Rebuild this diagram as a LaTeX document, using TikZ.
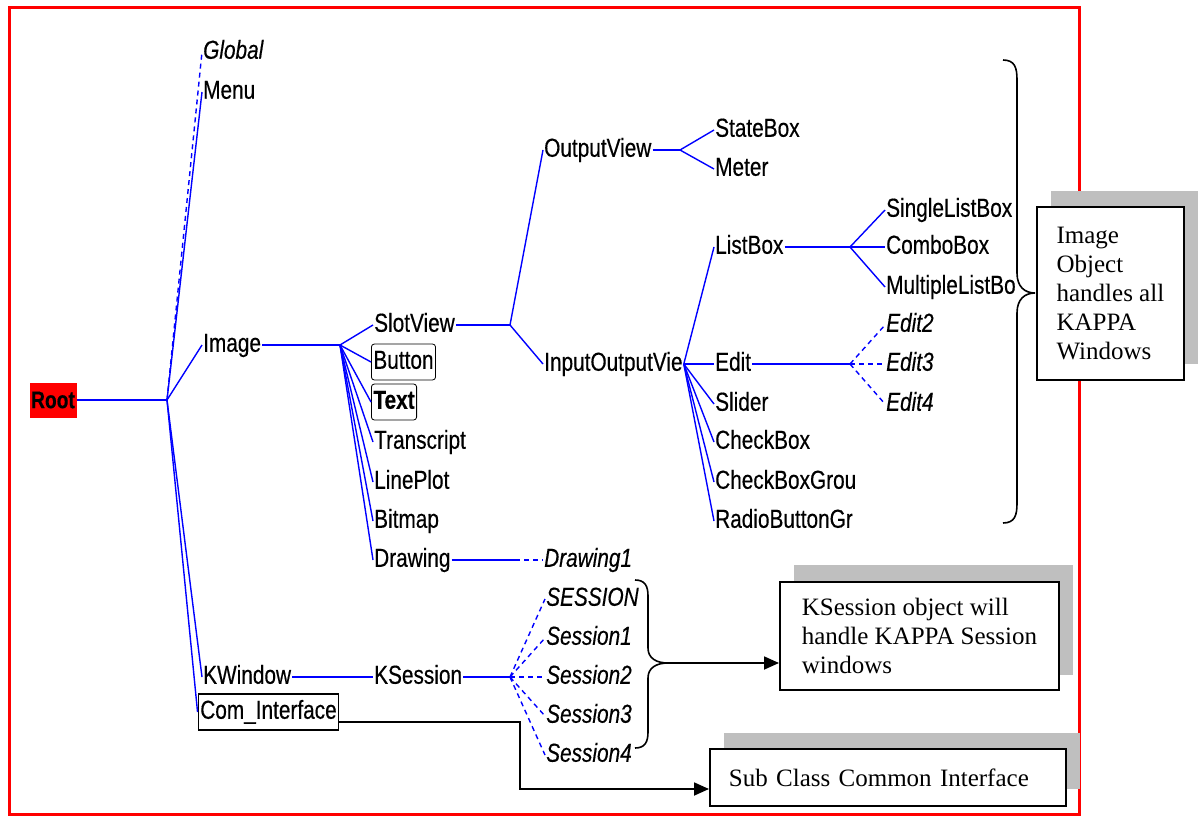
\documentclass[tikz,border=0pt]{standalone}
\usepackage{fontspec}
\setmainfont{Liberation Serif}
\newfontfamily\narrowsans[FakeStretch=0.8,FakeBold=0.4]{Liberation Sans}
\usetikzlibrary{arrows.meta}
\begin{document}
\begin{tikzpicture}[x=1pt,y=-1pt,
  lbl/.style={font=\narrowsans\fontsize{26}{30}\selectfont, anchor=west, inner sep=1pt, text height=19pt, text depth=5.5pt},
  ilbl/.style={lbl, font=\narrowsans\itshape\fontsize{26}{30}\selectfont},
  framed/.style={draw=black, line width=0.8pt, rounded corners=3pt, inner xsep=2pt, minimum height=36pt},
  tree/.style={draw=blue, line width=1.4pt},
  dtree/.style={tree, dash pattern=on 5pt off 4pt},
  conn/.style={draw=black, line width=1.8pt},
  note/.style={draw=black, line width=1.8pt, fill=white, font=\fontsize{25}{29}\selectfont, align=left, inner xsep=19pt, inner ysep=0pt, anchor=north west},
  shade/.style={fill=black!25, draw=none},
  tip/.style={-{Triangle[length=15pt,width=13pt]}}
]
\useasboundingbox (0,0) rectangle (1202,816);
% frame
\draw[red, line width=3pt] (9,8) rectangle (1079,814);

% shadows and notes
\fill[shade] (1051,191) rectangle (1198,364);
\fill[shade] (794,565) rectangle (1073,675);
\fill[shade] (724,733) rectangle (1080,789);
\node[note, inner xsep=0pt, minimum width=147pt, minimum height=173pt] (imgnote) at (1036,206) {Image\\Object\\handles all\\KAPPA\\Windows};
\node[note, inner xsep=0pt, minimum width=279pt, minimum height=108pt] (ksnote) at (779,581) {KSession object will\\handle KAPPA Session\\windows};
\node[note, text width=318pt, minimum height=57pt] (subnote) at (709,748) {Sub Class Common Interface};

% root
\node[fill=red, font=\narrowsans\bfseries\fontsize{24}{28}\selectfont, minimum width=47pt, minimum height=35pt, inner sep=0pt] (root) at (53,400) {Root};

% level 1
\node[ilbl] (global) at (202,52) {Global};
\node[lbl] (menu) at (202,92) {Menu};
\node[lbl] (image) at (202,345) {Image};
\node[lbl] (kwin) at (202,677) {KWindow};
\node[draw=black, line width=1.5pt, font=\narrowsans\fontsize{26}{30}\selectfont, minimum width=137pt, minimum height=36pt, inner xsep=2pt, text height=19pt, text depth=5.5pt] (ci) at (268.5,712) {Com\_Interface};

% level 2
\node[lbl] (slot) at (373,325) {SlotView};
\node[lbl, framed] (button) at (371,362) {Button};
\node[lbl, framed, font=\narrowsans\bfseries\fontsize{26}{30}\selectfont] (text) at (371,402) {Text};
\node[lbl] (transcript) at (373,442) {Transcript};
\node[lbl] (lineplot) at (373,482) {LinePlot};
\node[lbl] (bitmap) at (373,521) {Bitmap};
\node[lbl] (drawing) at (373,560) {Drawing};
\node[lbl] (ksess) at (373,677) {KSession};

% level 3
\node[lbl] (ov) at (543,150) {OutputView};
\node[lbl] (iov) at (543,364) {InputOutputVie};
\node[ilbl] (drawing1) at (543,560) {Drawing1};
\node[ilbl] (s0) at (545,599) {SESSION};
\node[ilbl] (s1) at (545,638) {Session1};
\node[ilbl] (s2) at (545,677) {Session2};
\node[ilbl] (s3) at (545,716) {Session3};
\node[ilbl] (s4) at (545,755) {Session4};

% level 4
\node[lbl] (statebox) at (714,130) {StateBox};
\node[lbl] (meter) at (714,169) {Meter};
\node[lbl] (listbox) at (714,247) {ListBox};
\node[lbl] (edit) at (714,364) {Edit};
\node[lbl] (slider) at (714,404) {Slider};
\node[lbl] (checkbox) at (714,442) {CheckBox};
\node[lbl] (cbg) at (714,482) {CheckBoxGrou};
\node[lbl] (rbg) at (714,521) {RadioButtonGr};

% level 5
\node[lbl] (single) at (885,210) {SingleListBox};
\node[lbl] (combo) at (885,247) {ComboBox};
\node[lbl] (multi) at (885,287) {MultipleListBo};
\node[ilbl] (edit2) at (885,325) {Edit2};
\node[ilbl] (edit3) at (885,364) {Edit3};
\node[ilbl] (edit4) at (885,404) {Edit4};

% junctions
\coordinate (rJ) at (167,400);
\coordinate (iJ) at (340,345);
\coordinate (sJ) at (510,325);
\coordinate (oJ) at (680,150);
\coordinate (ioJ) at (iov.east);
\coordinate (lJ) at (850,247);
\coordinate (eJ) at (850,364);
\coordinate (dJ) at (515,560);
\coordinate (kJ) at (510,677);

% tree lines
\draw[tree] (root.east) -- (rJ);
\draw[dtree] (rJ) -- (global.west);
\foreach \n in {menu,image,kwin,ci} \draw[tree] (rJ) -- (\n.west);
\draw[tree] (image.east) -- (iJ);
\foreach \n in {slot,button,text,transcript,lineplot,bitmap,drawing} \draw[tree] (iJ) -- (\n.west);
\draw[tree] (slot.east) -- (sJ);
\draw[tree] (sJ) -- (ov.west);
\draw[tree] (sJ) -- (iov.west);
\draw[tree] (ov.east) -- (oJ);
\draw[tree] (oJ) -- (statebox.west);
\draw[tree] (oJ) -- (meter.west);
\foreach \n in {listbox,edit,slider,checkbox,cbg,rbg} \draw[tree] (ioJ) -- (\n.west);
\draw[tree] (listbox.east) -- (lJ);
\foreach \n in {single,combo,multi} \draw[tree] (lJ) -- (\n.west);
\draw[tree] (edit.east) -- (eJ);
\foreach \n in {edit2,edit3,edit4} \draw[dtree] (eJ) -- (\n.west);
\draw[tree] (drawing.east) -- (dJ);
\draw[dtree] (dJ) -- (drawing1.west);
\draw[tree] (kwin.east) -- (ksess.west);
\draw[tree] (ksess.east) -- (kJ);
\foreach \n in {s0,s1,s2,s3,s4} \draw[dtree] (kJ) -- (\n.west);

% braces
\draw[conn, line width=1.6pt] (1003,60) .. controls (1015,60) and (1017,68) .. (1017,80) -- (1017,273) .. controls (1017,287) and (1025,293) .. (1035,293) .. controls (1025,293) and (1017,299) .. (1017,313) -- (1017,503) .. controls (1017,515) and (1015,523) .. (1003,523);
\coordinate (stip) at (668,663);
\draw[conn, line width=1.6pt] (635,580) .. controls (645,580) and (648,586) .. (648,596) -- (648,648) .. controls (648,658) and (656,663) .. (stip) .. controls (656,663) and (648,668) .. (648,678) -- (648,732) .. controls (648,742) and (645,748) .. (635,748);

% connectors
\draw[conn, tip] (stip) -- (stip -| ksnote.west);
\coordinate (bend) at (520,789);
\draw[conn, tip] ([yshift=-10pt]ci.east) -| (bend) -- (bend -| subnote.west);
\end{tikzpicture}
\end{document}
